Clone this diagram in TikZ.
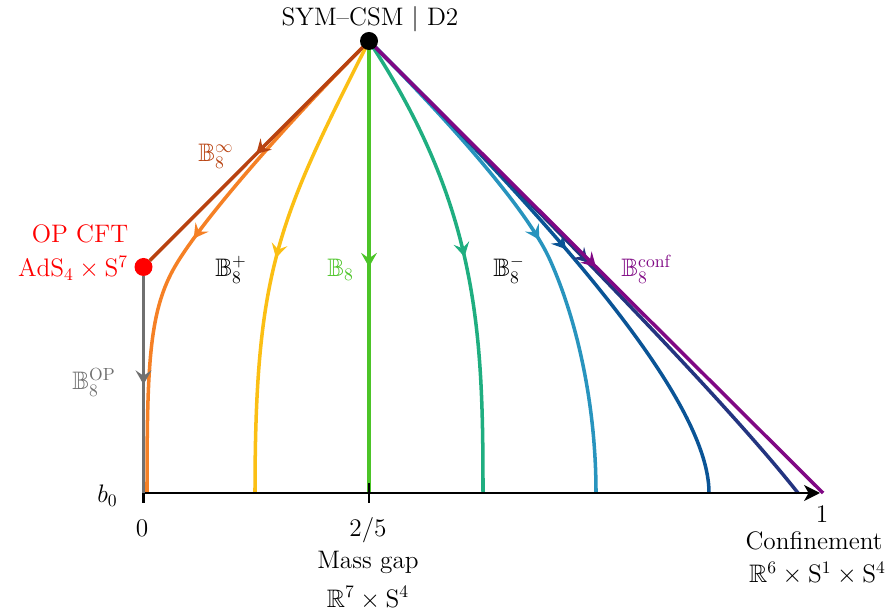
\documentclass[tikz,border=0pt]{standalone}
\usepackage{amssymb}
\usepackage{tikz,tkz-graph}
\usetikzlibrary{arrows.meta,decorations.markings,backgrounds}

\definecolor{rustC}{RGB}{184,66,16}
\definecolor{orangeC}{RGB}{245,128,37}
\definecolor{goldC}{RGB}{251,191,20}
\definecolor{limeC}{RGB}{76,196,40}
\definecolor{tealC}{RGB}{31,174,128}
\definecolor{skyC}{RGB}{40,148,190}
\definecolor{oceanC}{RGB}{10,84,150}
\definecolor{navyC}{RGB}{35,52,128}
\definecolor{plumC}{RGB}{128,8,132}
\definecolor{greyC}{RGB}{112,112,112}

\tikzset{
  midarrow/.style={postaction={decorate},
    decoration={markings,mark=at position 0.5 with {\arrow{Stealth[length=8pt,width=9pt,inset=3pt]}}}},
  flow/.style={line width=2pt,midarrow},
  axisline/.style={line width=1.5pt,-{Stealth[length=9pt,width=9pt,inset=2.5pt]}},
  axtick/.style={line width=1.5pt},
  lbl/.style={font=\Large,inner sep=0pt,anchor=base west},
  clbl/.style={font=\Large,inner sep=0pt,anchor=base},
  LabelStyle/.style={}
}

\begin{document}
\begin{tikzpicture}
      \useasboundingbox (-2.87,-2.42) rectangle (15.01,9.86);

      % Vertices
      \tikzset{VertexStyle/.style = {circle,fill=black,inner sep=0pt,minimum size=0.36cm}}
      \Vertex[x=4.51 ,y=9.04,NoLabel]{sym}
      \tikzset{VertexStyle/.style = {circle,fill=red,inner sep=0pt,minimum size=0.36cm}}
      \Vertex[x=0 ,y=4.52,NoLabel]{op}

      % Points on the axis
      \coordinate (o) at (0,0);
      \coordinate (eor) at (0.07,0);
      \coordinate (eye) at (2.23,0);
      \coordinate (mg) at (4.51,0);
      \coordinate (ete) at (6.79,0);
      \coordinate (elb) at (9.05,0);
      \coordinate (edb) at (11.31,0);
      \coordinate (env) at (13.09,0);
      \coordinate (epu) at (13.59,0);
      \coordinate (cf) at (13.53,0);

      % Flows
      \begin{scope}[on background layer]
      \draw[flow,orangeC] (sym.center) .. controls (2.81,7.34) and (1.07,5.34) .. (0.59,4.46)
            .. controls (0.11,3.58) and (0.07,2.5) .. (eor);
      \draw[flow,goldC] (sym.center) .. controls (2.71,5.48) and (2.23,4.5) .. (eye);
      \draw[flow,limeC] (sym.center) -- (mg);
      \draw[flow,tealC] (sym.center) .. controls (6.71,5.70) and (6.79,3.2) .. (ete);
      \draw[flow,skyC] (sym.center) .. controls (5.92,7.63) and (7.64,5.75) .. (8.13,4.66)
            .. controls (8.66,3.48) and (9.05,1.8) .. (elb);
      \draw[flow,oceanC] (sym.center) .. controls (9.84,3.79) and (11.31,1.3) .. (edb);
      \draw[flow,navyC] (sym.center) .. controls (10.89,2.69) and (12.47,0.78) .. (env);
      \draw[flow,plumC] (sym.center) -- (epu);

      % Axis
      \draw[axisline] (o) -- (cf);
      \draw[axtick] ([yshift=-0.2cm]o) -- ([yshift=0.2cm]o);
      \draw[axtick] ([yshift=-0.2cm]mg) -- ([yshift=0.2cm]mg);
      \end{scope}

      % Edges
      \tikzset{EdgeStyle/.style = {flow,rustC}}
      \Edge(sym)(op)
      \tikzset{EdgeStyle/.style = {flow,greyC}}
      \Edge(op)(o)

      % Labels
      \node[clbl] (tsym) at (4.53,9.34) {SYM--CSM $|$ D2};
      \node[lbl,anchor=base east,text=red] (top1) at (-0.30,5.0) {OP CFT};
      \node[lbl,anchor=base east,text=red] (top2) at (-0.30,4.32) {$\mathrm{AdS}_4\times\mathrm{S}^7$};
      \node[lbl,text=rustC] (linf) at (1.09,6.62) {$\mathbb{B}_8^\infty$};
      \node[lbl] (lplus) at (1.43,4.32) {$\mathbb{B}_8^+$};
      \node[lbl,text=limeC] (lzero) at (3.67,4.32) {$\mathbb{B}_8$};
      \node[lbl] (lminus) at (6.99,4.32) {$\mathbb{B}_8^-$};
      \node[lbl,text=plumC] (lconf) at (9.55,4.32) {$\mathbb{B}_8^{\mathrm{conf}}$};
      \node[lbl,text=greyC] (lop) at (-1.43,2.06) {$\mathbb{B}_8^{\mathrm{OP}}$};
      \node[lbl] (lb) at (-0.93,-0.2) {$b_0$};
      \node[clbl] (t0) at (-0.03,-0.88) {$0$};
      \node[clbl] (t25) at (4.49,-0.88) {$2/5$};
      \node[clbl] (tmg) at (4.49,-1.52) {Mass gap};
      \node[clbl] (tmg2) at (4.49,-2.28) {$\mathbb{R}^7\times\mathrm{S}^4$};
      \node[clbl] (t1) at (13.57,-0.6) {$1$};
      \node[clbl] (tcf) at (13.41,-1.14) {Confinement};
      \node[clbl] (tcf2) at (13.48,-1.8) {$\mathbb{R}^6\times\mathrm{S}^1\times\mathrm{S}^4$};
    \end{tikzpicture}
\end{document}
